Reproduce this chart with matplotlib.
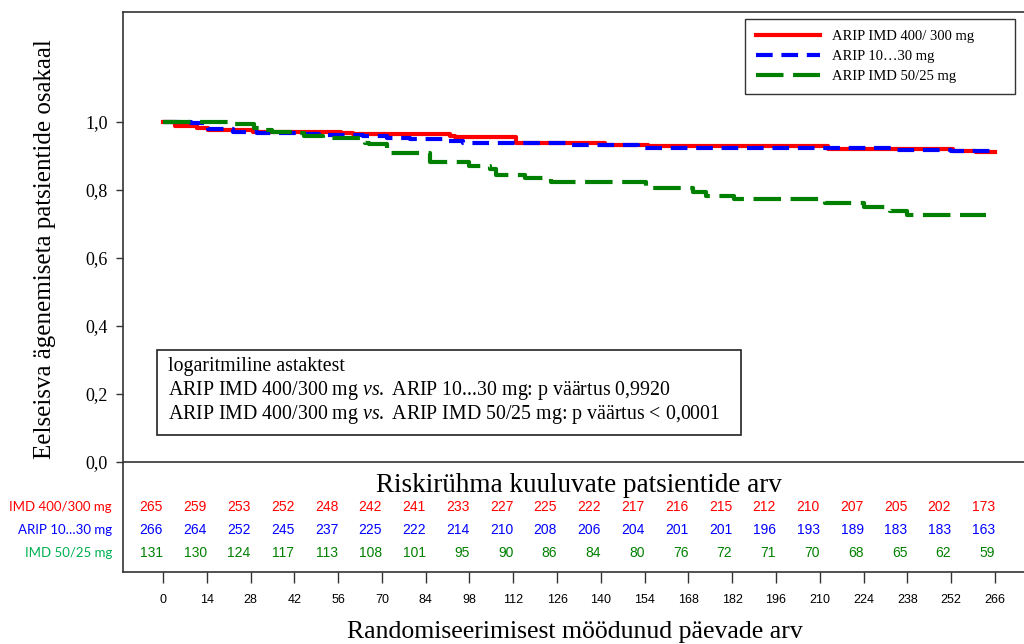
import matplotlib
matplotlib.use("Agg")
import matplotlib.pyplot as plt
from matplotlib.patches import Rectangle

plt.rcParams['mathtext.fontset'] = 'custom'
plt.rcParams['mathtext.rm'] = 'Liberation Serif'
plt.rcParams['mathtext.it'] = 'Liberation Serif:italic'

# ---- data ------------------------------------------------------------------
red_days = [0, 3.8, 10.8, 14.4, 28.8, 57, 60.8, 91.8, 93.4, 113, 141.3, 155, 212.6, 252.6, 260, 266]
red_surv = [1.0, 0.988, 0.981, 0.976, 0.970, 0.967, 0.964, 0.960, 0.957, 0.938, 0.933, 0.928, 0.920, 0.914, 0.911, 0.911]

blue_days = [0, 8.8, 14.4, 22.4, 30, 42.7, 50, 64, 71.5, 79, 90, 96, 103.5, 129, 152, 234, 252, 266]
blue_surv = [1.0, 0.997, 0.978, 0.971, 0.967, 0.964, 0.962, 0.959, 0.954, 0.950, 0.945, 0.939, 0.937, 0.932, 0.923, 0.918, 0.916, 0.916]

green_days = [0, 22, 29, 31, 35, 42, 45, 51, 63, 64.6, 66, 71.5, 85.4, 98, 104.5, 106.5, 115.7, 124,
              154.4, 169.5, 173.6, 182.5, 211.6, 224, 232.4, 238, 263]
green_surv = [1.0, 0.993, 0.981, 0.976, 0.970, 0.967, 0.960, 0.954, 0.947, 0.939, 0.934, 0.910, 0.883,
              0.872, 0.862, 0.844, 0.834, 0.824, 0.805, 0.793, 0.782, 0.773, 0.761, 0.751, 0.738, 0.726, 0.726]

risk_days = [0, 14, 28, 42, 56, 70, 84, 98, 112, 126, 140, 154, 168, 182, 196, 210, 224, 238, 252, 266]
risk_red = [265, 259, 253, 252, 248, 242, 241, 233, 227, 225, 222, 217, 216, 215, 212, 210, 207, 205, 202, 173]
risk_blue = [266, 264, 252, 245, 237, 225, 222, 214, 210, 208, 206, 204, 201, 201, 196, 193, 189, 183, 183, 163]
risk_green = [131, 130, 124, 117, 113, 108, 101, 95, 90, 86, 84, 80, 76, 72, 71, 70, 68, 65, 62, 59]

legend_labels = ["ARIP IMD 400/ 300 mg", "ARIP 10\u202630 mg", "ARIP IMD 50/25 mg"]
row_labels = ["IMD 400/300 mg", "ARIP 10\u202630 mg", "IMD 50/25 mg"]
y_ticks = [0.0, 0.2, 0.4, 0.6, 0.8, 1.0]
y_ticklabels = ["0,0", "0,2", "0,4", "0,6", "0,8", "1,0"]

# ---- layout helpers (pixel -> figure fraction) -----------------------------
W, H = 1024, 644
def fx(x):
    return x / W
def fy(y):
    return 1 - y / H

RED, BLUE, GREEN = '#FF0000', '#0000FF', '#008000'
SERIF = ['Liberation Serif', 'DejaVu Serif']
SANS_N = ['Liberation Sans Narrow', 'Liberation Sans']
FRAME = '#333333'

fig = plt.figure(figsize=(W / 100, H / 100), dpi=100)
ax = fig.add_axes([fx(123), fy(572), 1 - fx(123), fy(12) - fy(572)])

ax.set_xlim(-12.79, 275.3)
ax.set_ylim(-0.3235, 1.3235)

ax.step(red_days, red_surv, where='post', color=RED, lw=3, label=legend_labels[0])
ax.step(blue_days, blue_surv, where='post', color=BLUE, lw=3, dashes=(4, 2.1), label=legend_labels[1])
ax.step(green_days, green_surv, where='post', color=GREEN, lw=3, dashes=(6.6, 2.3), label=legend_labels[2])

ax.axhline(0, color=FRAME, lw=1.2)
for s in ['left', 'top', 'bottom']:
    ax.spines[s].set_color(FRAME)
    ax.spines[s].set_linewidth(1.2)
ax.spines['right'].set_visible(False)

ax.set_yticks(y_ticks)
ax.set_yticklabels(y_ticklabels, family=SERIF, fontsize=13)
ax.set_xticks(risk_days)
ax.set_xticklabels([str(d) for d in risk_days], family=SANS_N, fontsize=9)
ax.tick_params(axis='y', direction='out', length=5, width=1, pad=6, color=FRAME)
ax.tick_params(axis='x', direction='out', length=8, width=1, pad=8, color=FRAME)

# legend box stretched to the reference size
leg_box = (fx(745), fy(93), fx(1015) - fx(745), fy(19) - fy(93))
leg = ax.legend(loc='upper left', bbox_to_anchor=leg_box, bbox_transform=fig.transFigure,
                mode='expand', borderaxespad=0, fancybox=False, edgecolor='#333333', framealpha=1,
                prop={'family': SERIF, 'size': 10.5}, handlelength=4.4, labelspacing=0.45,
                borderpad=0.75, handletextpad=0.8)
leg.get_frame().set_linewidth(1.0)

# risk table
ax.text(133, -0.068, "Riskirühma kuuluvate patsientide arv", ha='center', va='center',
        family=SERIF, fontsize=19.5)
for row, (vals, col, lab_col, lab, y) in enumerate(zip(
        [risk_red, risk_blue, risk_green], [RED, BLUE, GREEN], [RED, BLUE, '#00B050'],
        row_labels, [-0.132, -0.20, -0.267])):
    for d, v in zip(risk_days, vals):
        ax.text(d, y, str(v), ha='right', va='center', color=col, family=SANS_N, fontsize=10)
    fig.text(fx(112), y * 340 / H + fy(462), lab, ha='right', va='center', color=lab_col,
             family=['Lato', 'DejaVu Sans'], fontsize=9.5)

# log-rank box
fig.patches.append(Rectangle((fx(157), fy(435)), fx(741) - fx(157), fy(350) - fy(435),
                             transform=fig.transFigure, fill=False, edgecolor='#222222', lw=1.2))
box_lines = ["logaritmiline astaktest",
             r"ARIP IMD 400/300 mg $\mathit{vs.}$ ARIP 10...30 mg: p väärtus 0,9920",
             r"ARIP IMD 400/300 mg $\mathit{vs.}$ ARIP IMD 50/25 mg: p väärtus < 0,0001"]
for i, t in enumerate(box_lines):
    fig.text(fx(168), fy(367 + 24 * i), t, ha='left', va='center', family=SERIF, fontsize=14.3)

fig.text(fx(45), fy(249), "Eelseisva ägenemiseta patsientide osakaal", rotation=90,
         ha='center', va='center', family=SERIF, fontsize=18)
fig.text(fx(575), fy(632), "Randomiseerimisest möödunud päevade arv", ha='center', va='center',
         family=SERIF, fontsize=18.5)

plt.savefig("out.png", dpi=100)
